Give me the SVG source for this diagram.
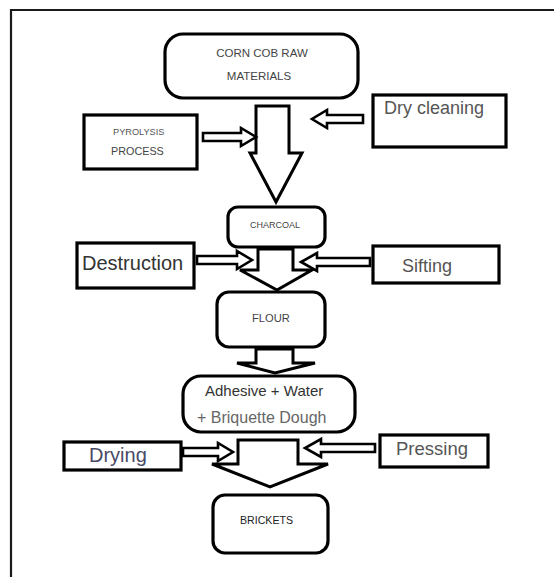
<svg xmlns="http://www.w3.org/2000/svg" width="554" height="577" viewBox="0 0 554 577">
<style>
.box{fill:#fff;stroke:#000;stroke-width:3.2}
.arr{fill:#fff;stroke:#000;stroke-width:3;stroke-linejoin:miter}
.sarr{fill:#fff;stroke:#000;stroke-width:2.6;stroke-linejoin:miter}
text{font-family:"Liberation Sans",Arial,sans-serif}
</style>
<rect x="0" y="0" width="554" height="577" fill="#fff"/>
<g id="frame"><path d="M11 577 V10 H554" fill="none" stroke="#1a1a1a" stroke-width="2.2"/></g>
<g id="n-corncob">
<rect class="box" x="165" y="34" width="193" height="64" rx="18"/>
<text x="262" y="57" font-size="11.5" fill="#444" text-anchor="middle">CORN COB RAW</text>
<text x="259" y="80" font-size="11.5" fill="#444" text-anchor="middle">MATERIALS</text>
</g>
<g id="n-dryclean">
<rect class="box" x="373" y="95" width="133" height="52"/>
<text x="384" y="114" font-size="18" fill="#555">Dry cleaning</text>
</g>
<g id="n-pyrolysis">
<rect class="box" x="84" y="115" width="113" height="54"/>
<text x="113" y="135" font-size="9.2" fill="#555">PYROLYSIS</text>
<text x="111" y="155" font-size="10.8" fill="#444">PROCESS</text>
</g>
<g id="n-charcoal">
<rect class="box" x="228" y="207" width="97" height="40" rx="10"/>
<text x="275" y="228" font-size="9" fill="#444" text-anchor="middle">CHARCOAL</text>
</g>
<g id="n-destruction">
<rect class="box" x="77" y="243" width="117" height="45"/>
<text x="82" y="270" font-size="20" fill="#333">Destruction</text>
</g>
<g id="n-sifting">
<rect class="box" x="373" y="246" width="126" height="37"/>
<text x="402" y="272" font-size="18" fill="#555">Sifting</text>
</g>
<g id="n-flour">
<rect class="box" x="217" y="292" width="108" height="55" rx="12"/>
<text x="271" y="322" font-size="11.2" fill="#444" text-anchor="middle">FLOUR</text>
</g>
<g id="n-adhesive">
<rect class="box" x="183" y="376" width="172" height="56" rx="18"/>
<text x="205" y="396" font-size="15" fill="#333">Adhesive + Water</text>
<text x="197" y="423" font-size="16" fill="#666">+ Briquette Dough</text>
</g>
<g id="n-drying">
<rect class="box" x="64" y="442" width="117" height="28"/>
<text x="89" y="462" font-size="20" fill="#4a4a66">Drying</text>
</g>
<g id="n-pressing">
<rect class="box" x="380" y="435" width="108" height="32"/>
<text x="396" y="455" font-size="18.5" fill="#555">Pressing</text>
</g>
<g id="n-brickets">
<rect class="box" x="213" y="495" width="115" height="58" rx="12"/>
<text x="240" y="524" font-size="10.6" fill="#222">BRICKETS</text>
</g>
<g id="connectors">
<path class="arr" d="M256 106 H289 V153 H302 L276 202 L250 153 H256 Z"/>
<path class="sarr" d="M203 133 H241 V128 L256 137 L241 146 V141 H203 Z"/>
<path class="sarr" d="M363 115 H327 V110 L312 119 L327 128 V123 H363 Z"/>
<path class="arr" d="M258 249 H293 V270 H312 L277 290 L240 270 H258 Z"/>
<path class="sarr" d="M197 256 H237 V251 L252 260 L237 269 V264 H197 Z"/>
<path class="sarr" d="M370 258 H317 V253 L301 262 L317 271 V266 H370 Z"/>
<path class="arr" d="M256 349 H293 V363 H315 L275 373 L237 363 H256 Z"/>
<path class="arr" d="M238 440 H298 V464 H328 L270 487 L212 464 H238 Z"/>
<path class="sarr" d="M183 448 H218 V443 L233 452 L218 461 V456 H183 Z"/>
<path class="sarr" d="M375 444 H321 V439 L305 448 L321 457 V452 H375 Z"/>
</g>
</svg>
